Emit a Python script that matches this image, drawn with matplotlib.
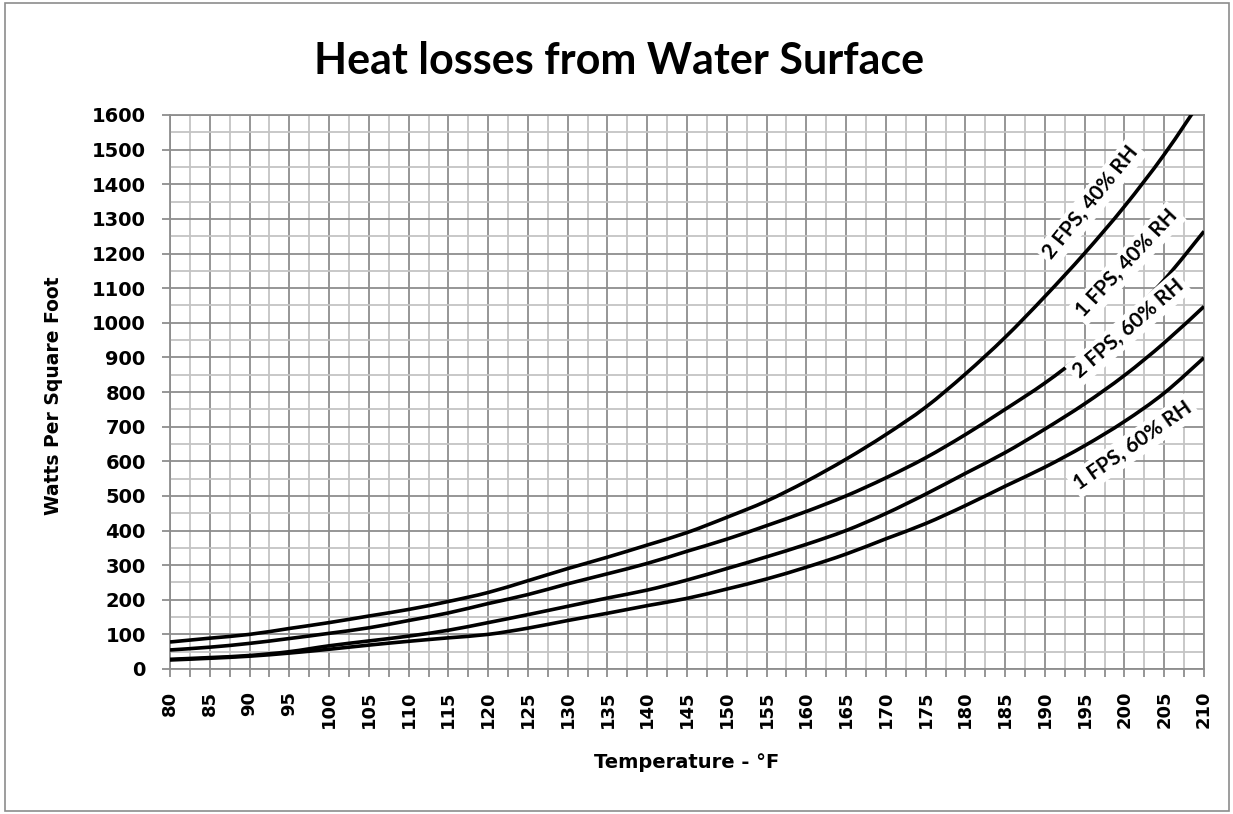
import matplotlib
matplotlib.use("Agg")
import numpy as np
import matplotlib.pyplot as plt
from matplotlib.ticker import MultipleLocator
from matplotlib.patches import Rectangle, PathPatch
from matplotlib.path import Path

# ---------------- data ----------------
temps = [80, 85, 90, 95, 100, 105, 110, 115, 120, 125, 130, 135, 140, 145,
         150, 155, 160, 165, 170, 175, 180, 185, 190, 195, 200, 205, 210]
fps2_rh40 = [78, 89, 100, 117, 134, 153, 172, 195, 221, 255, 290, 323, 358, 394,
             438, 485, 542, 606, 677, 756, 852, 958, 1076, 1201, 1336, 1486, 1655]
fps1_rh40 = [55, 63, 74, 88, 103, 119, 140, 162, 189, 215, 246, 275, 305, 340,
             375, 414, 455, 500, 552, 610, 677, 750, 826, 913, 1009, 1124, 1264]
fps2_rh60 = [28, 33, 39, 50, 67, 81, 95, 112, 134, 157, 181, 205, 228, 257,
             290, 324, 360, 400, 449, 505, 565, 625, 693, 766, 848, 942, 1047]
fps1_rh60 = [26, 31, 37, 46, 57, 69, 80, 90, 100, 118, 140, 161, 183, 204,
             231, 260, 294, 332, 376, 420, 472, 528, 583, 645, 715, 797, 899]
series = [fps2_rh40, fps1_rh40, fps2_rh60, fps1_rh60]
series_labels = ["2 FPS, 40% RH", "1 FPS, 40% RH", "2 FPS, 60% RH", "1 FPS, 60% RH"]

title = "Heat losses from Water Surface"
xlabel = "Temperature - °F"
ylabel = "Watts Per Square Foot"


def smooth_path(xs, ys):
    """Catmull-Rom style smoothed line (like a spreadsheet 'smoothed line')."""
    p = np.column_stack([xs, ys]).astype(float)
    verts = [p[0]]
    codes = [Path.MOVETO]
    n = len(p)
    for i in range(n - 1):
        p0 = p[i - 1] if i > 0 else p[i]
        p1, p2 = p[i], p[i + 1]
        p3 = p[i + 2] if i + 2 < n else p[i + 1]
        verts += [p1 + (p2 - p0) / 6.0, p2 - (p3 - p1) / 6.0, p2]
        codes += [Path.CURVE4] * 3
    return Path(verts, codes)


# ---------------- figure ----------------
W, H = 1233, 814
fig = plt.figure(figsize=(W / 100, H / 100), dpi=100)
fig.patch.set_facecolor("white")

fig.patches.append(Rectangle((5 / W, 1 - 811 / H), (1229 - 5) / W, (811 - 3) / H,
                             transform=fig.transFigure, fill=False,
                             edgecolor="#8c8c8c", linewidth=1.2))

left, right, top, bottom = 170, 1204, 115, 669
ax = fig.add_axes([left / W, 1 - bottom / H, (right - left) / W, (bottom - top) / H])

major_c = "#8e8e8e"
minor_c = "#c4c4c4"

ax.set_xlim(80, 210)
ax.set_ylim(0, 1600)
ax.xaxis.set_major_locator(MultipleLocator(5))
ax.xaxis.set_minor_locator(MultipleLocator(2.5))
ax.yaxis.set_major_locator(MultipleLocator(100))
ax.yaxis.set_minor_locator(MultipleLocator(50))
ax.grid(which="minor", color=minor_c, linewidth=1.3, zorder=0)
ax.grid(which="major", color=major_c, linewidth=1.3, zorder=0)
ax.set_axisbelow(True)

for s in ax.spines.values():
    s.set_color(major_c)
    s.set_linewidth(1.3)

ax.tick_params(axis="x", which="both", length=5.5, color=major_c, width=1.3,
               pad=10, labelsize=13, labelrotation=90)
ax.tick_params(axis="y", which="major", length=5.5, color=major_c, width=1.3,
               pad=12, labelsize=14)
ax.tick_params(axis="y", which="minor", length=0)
for lab in ax.get_xticklabels() + ax.get_yticklabels():
    lab.set_fontweight("bold")
    lab.set_family("DejaVu Sans")

for ys in series:
    patch = PathPatch(smooth_path(temps, ys), facecolor="none", edgecolor="black",
                      linewidth=2.6, zorder=3, transform=ax.transData)
    ax.add_patch(patch)

# curve labels (layout positions)
label_pos = [(195.8, 1347, 51), (200.3, 1171, 47), (200.5, 983, 41), (201.1, 645, 35)]
for text, (tx, ty, ang) in zip(series_labels, label_pos):
    ax.text(tx, ty, text, rotation=ang, rotation_mode="anchor", ha="center",
            va="center", fontsize=15, fontweight="bold", family="Lato",
            color="black", zorder=5,
            bbox=dict(facecolor="white", edgecolor="none", pad=2.5))

fig.text(0.502, 0.925, title, ha="center", va="center", fontsize=31,
         fontweight="bold", family="Lato")
fig.text(54 / W, 1 - 396 / H, ylabel, rotation=90, ha="center", va="center",
         fontsize=13.5, fontweight="bold", family="DejaVu Sans")
fig.text(687 / W, 1 - 763 / H, xlabel, ha="center", va="center",
         fontsize=14, fontweight="bold", family="DejaVu Sans")

fig.savefig("out.png", dpi=100, facecolor="white")
